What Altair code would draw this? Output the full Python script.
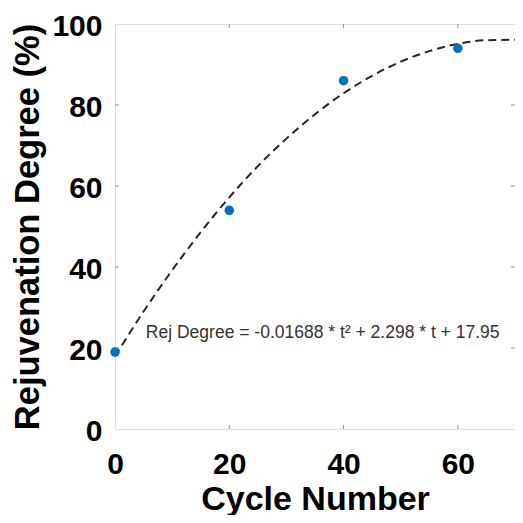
import altair as alt
import pandas as pd

# measured data points
cycles = [0, 20, 40, 60]
rej_degree = [19, 54, 86, 94]

# fitted curve (dashed)
fit_t = [0, 5, 10, 15, 20, 25, 30, 35, 40, 45, 50, 55, 60, 65, 70]
fit_val = [17.95, 29.0, 39.2, 48.6, 57.2, 64.9, 71.7, 77.7, 82.9, 87.2, 90.7, 93.3, 95.1, 96.0, 96.1]

x_ticks = [0, 20, 40, 60]
y_ticks = [0, 20, 40, 60, 80, 100]

annotation = "Rej Degree = -0.01688 * t² + 2.298 * t + 17.95"

pts = pd.DataFrame({"t": cycles, "v": rej_degree})
fit = pd.DataFrame({"t": fit_t, "v": fit_val})
xt = pd.DataFrame({"t": x_ticks[1:]})
yt = pd.DataFrame({"v": y_ticks[1:-1]})
ann = pd.DataFrame({"t": [5.4], "v": [23.7], "label": [annotation]})

W = 400
H = 405
FONT = "Liberation Sans"

xscale = alt.Scale(domain=[0, 70], nice=False, zero=False)
yscale = alt.Scale(domain=[0, 100], nice=False, zero=False)

xaxis = alt.Axis(values=x_ticks, title="Cycle Number", ticks=False, domain=False,
                 grid=False, labelFont=FONT, labelFontSize=30, labelFontWeight="bold",
                 labelColor="black", labelPadding=20, labelFlush=False,
                 titleFont=FONT, titleFontSize=34, titleFontWeight="bold",
                 titleColor="black", titleBaseline="alphabetic", titleY=80)
yaxis = alt.Axis(values=y_ticks, title="Rejuvenation Degree (%)", ticks=False, domain=False,
                 grid=False, labelFont=FONT, labelFontSize=30, labelFontWeight="bold",
                 labelColor="black", labelPadding=13, labelOffset=2, labelFlush=False,
                 titleFont=FONT, titleFontSize=34.5, titleFontWeight="bold",
                 titleColor="black", titleBaseline="alphabetic", titleX=-77,
                 titleY=H / 2, titleAngle=270)

line = alt.Chart(fit).mark_line(color="#262626", strokeWidth=2, strokeDash=[8, 5],
                                interpolate="monotone").encode(
    x=alt.X("t:Q", scale=xscale, axis=xaxis),
    y=alt.Y("v:Q", scale=yscale, axis=yaxis),
)

points = alt.Chart(pts).mark_circle(color="#0072BD", size=90, opacity=1).encode(
    x=alt.X("t:Q", scale=xscale),
    y=alt.Y("v:Q", scale=yscale),
)

text = alt.Chart(ann).mark_text(align="left", baseline="middle", font=FONT,
                                fontSize=17.5, color="#333333").encode(
    x=alt.X("t:Q", scale=xscale),
    y=alt.Y("v:Q", scale=yscale),
    text="label:N",
)

tick_color = "#8f8f8f"
xt_bottom = alt.Chart(xt).mark_rule(color=tick_color, strokeWidth=1).encode(
    x=alt.X("t:Q", scale=xscale), y=alt.value(H), y2=alt.value(H - 4))
xt_top = alt.Chart(xt).mark_rule(color=tick_color, strokeWidth=1).encode(
    x=alt.X("t:Q", scale=xscale), y=alt.value(0), y2=alt.value(4))
yt_left = alt.Chart(yt).mark_rule(color=tick_color, strokeWidth=1).encode(
    y=alt.Y("v:Q", scale=yscale), x=alt.value(0), x2=alt.value(4))
yt_right = alt.Chart(yt).mark_rule(color=tick_color, strokeWidth=1).encode(
    y=alt.Y("v:Q", scale=yscale), x=alt.value(W), x2=alt.value(W - 4))

chart = alt.layer(xt_bottom, xt_top, yt_left, yt_right, line, points, text).properties(
    width=W, height=H,
    autosize=alt.AutoSizeParams(type="none"),
    padding={"left": 107, "top": 16, "right": 0, "bottom": 86},
).configure_view(stroke=tick_color, strokeWidth=1.2).configure(background="white")

chart.save("out.html", embed_options={"renderer": "svg", "actions": False})
